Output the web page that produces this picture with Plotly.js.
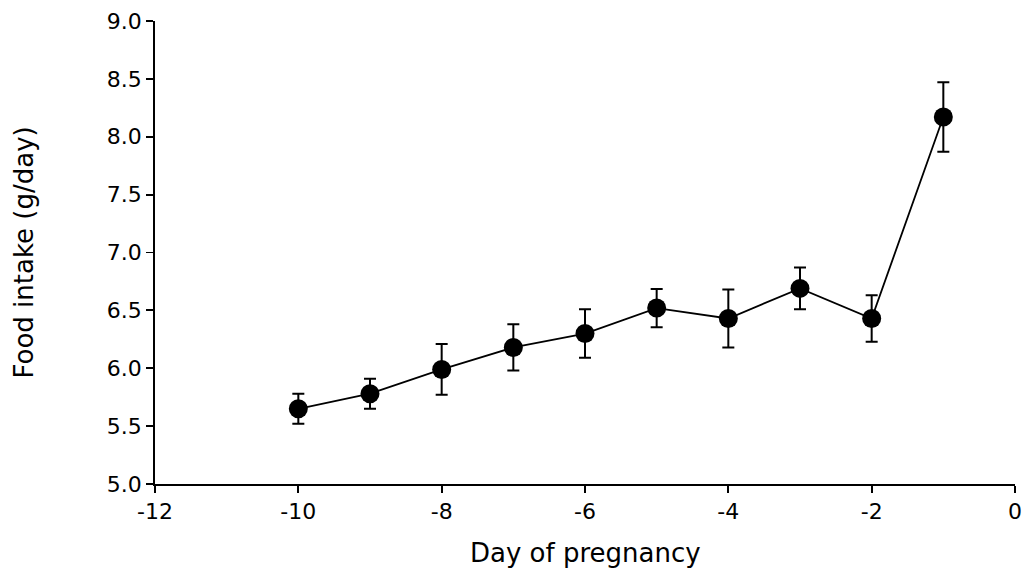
<!DOCTYPE html>
<html>
<head>
<meta charset="utf-8">
<script src="https://cdn.plot.ly/plotly-3.0.1.min.js"></script>
<style>html,body{margin:0;padding:0;background:#fff;}#chart{width:1027px;height:573px;}</style>
</head>
<body>
<div id="chart"></div>
<script>
const days = [-10, -9, -8, -7, -6, -5, -4, -3, -2, -1];
const intake = [5.65, 5.78, 5.99, 6.18, 6.30, 6.52, 6.43, 6.69, 6.43, 8.17];
const sem = [0.13, 0.13, 0.22, 0.20, 0.21, 0.165, 0.25, 0.18, 0.20, 0.30];
const xTicks = [-12, -10, -8, -6, -4, -2, 0];
const yTicks = [5.0, 5.5, 6.0, 6.5, 7.0, 7.5, 8.0, 8.5, 9.0];
const xTitle = 'Day of pregnancy';
const yTitle = 'Food intake (g/day)';

const trace = {
  x: days, y: intake, type: 'scatter', mode: 'lines+markers',
  line: {color: '#000', width: 1.8},
  marker: {color: '#000', size: 19, symbol: 'circle'},
  error_y: {type: 'data', array: sem, visible: true, color: '#000', thickness: 2, width: 6},
  cliponaxis: false
};
const fam = 'DejaVu Sans, Arial, sans-serif';
const layout = {
  width: 1027, height: 573,
  margin: {l: 155, r: 12, t: 21, b: 89},
  paper_bgcolor: '#fff', plot_bgcolor: '#fff',
  showlegend: false,
  font: {family: fam, color: '#000'},
  xaxis: {
    range: [-12, 0], tickvals: xTicks, ticktext: xTicks.map(String),
    showgrid: false, zeroline: false, showline: true, linecolor: '#000', linewidth: 1.8,
    ticks: 'outside', ticklen: 7, tickwidth: 1.8, tickcolor: '#000',
    tickfont: {family: fam, size: 22, color: '#000'}
  },
  yaxis: {
    range: [5, 9], tickvals: yTicks, ticktext: yTicks.map(v => v.toFixed(1)),
    showgrid: false, zeroline: false, showline: true, linecolor: '#000', linewidth: 1.8,
    ticks: 'outside', ticklen: 7, tickwidth: 1.8, tickcolor: '#000',
    tickfont: {family: fam, size: 22, color: '#000'}
  },
  annotations: [
    {text: xTitle, xref: 'paper', yref: 'paper', x: 0.5, y: (484 - 553) / 463,
     xanchor: 'center', yanchor: 'middle', showarrow: false,
     font: {family: fam, size: 26, color: '#000'}},
    {text: yTitle, xref: 'paper', yref: 'paper', x: (23 - 155) / 860, y: 0.5,
     xanchor: 'center', yanchor: 'middle', showarrow: false, textangle: -90,
     font: {family: fam, size: 26, color: '#000'}}
  ]
};
Plotly.newPlot('chart', [trace], layout, {displayModeBar: false, staticPlot: true});
</script>
</body>
</html>
